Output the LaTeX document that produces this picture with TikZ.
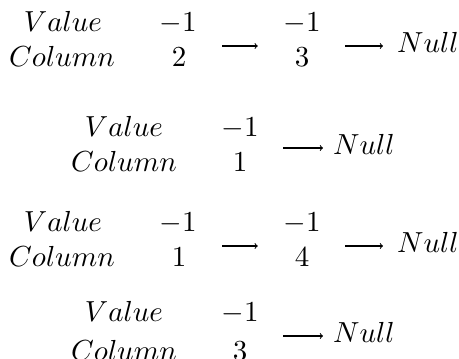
\documentclass[tikz,border=0pt]{standalone}
\usepackage{graphicx}
\newcommand\bigtxt[1]{\scalebox{2.9}{$#1$}}
\begin{document}
\begin{tikzpicture}[x=1pt,y=1pt,
  txt/.style={anchor=base,inner sep=0pt},
  nul/.style={anchor=base west,inner sep=0pt},
  arr/.style={->,>=to,line width=1.1pt}]
\useasboundingbox (0,0) rectangle (459,359);
% ---- row 1
\node[txt] (v1) at (63,327) {\bigtxt{Value}};
\node[txt] (c1) at (62,292) {\bigtxt{Column}};
\node[txt] (a1) at (178,327) {\bigtxt{-1}};
\node[txt] (b1) at (179,292) {\bigtxt{2}};
\node[txt] (a2) at (302,327) {\bigtxt{-1}};
\node[txt] (b2) at (302,292) {\bigtxt{3}};
\node[nul] (n1) at (397,306) {\bigtxt{Null}};
\coordinate (ax1) at (0,313);
\draw[arr,shorten <=25.5pt,shorten >=25.5pt] (a1.east |- ax1) -- (a2.west |- ax1);
\draw[arr,shorten <=24.5pt,shorten >=14pt] (a2.east |- ax1) -- (n1.west |- ax1);
% ---- row 2
\node[txt] (v2) at (124,222) {\bigtxt{Value}};
\node[txt] (c2) at (124,187) {\bigtxt{Column}};
\node[txt] (a3) at (240,222) {\bigtxt{-1}};
\node[txt] (b3) at (240,187) {\bigtxt{1}};
\node[nul] (n2) at (333,204) {\bigtxt{Null}};
\coordinate (ax2) at (0,211);
\draw[arr,shorten <=24.5pt,shorten >=10pt] (a3.east |- ax2) -- (n2.west |- ax2);
% ---- row 3
\node[txt] (v3) at (63,127) {\bigtxt{Value}};
\node[txt] (c3) at (62,92) {\bigtxt{Column}};
\node[txt] (a4) at (178,127) {\bigtxt{-1}};
\node[txt] (b4) at (179,92) {\bigtxt{1}};
\node[txt] (a5) at (302,127) {\bigtxt{-1}};
\node[txt] (b5) at (302,92) {\bigtxt{4}};
\node[nul] (n3) at (397,106) {\bigtxt{Null}};
\coordinate (ax3) at (0,113);
\draw[arr,shorten <=25.5pt,shorten >=25.5pt] (a4.east |- ax3) -- (a5.west |- ax3);
\draw[arr,shorten <=24.5pt,shorten >=14pt] (a5.east |- ax3) -- (n3.west |- ax3);
% ---- row 4
\node[txt] (v4) at (124,37) {\bigtxt{Value}};
\node[txt] (c4) at (124,-2) {\bigtxt{Column}};
\node[txt] (a6) at (240,37) {\bigtxt{-1}};
\node[txt] (b6) at (240,-2) {\bigtxt{3}};
\node[nul] (n4) at (333,16) {\bigtxt{Null}};
\coordinate (ax4) at (0,23);
\draw[arr,shorten <=24.5pt,shorten >=10pt] (a6.east |- ax4) -- (n4.west |- ax4);
\end{tikzpicture}
\end{document}
